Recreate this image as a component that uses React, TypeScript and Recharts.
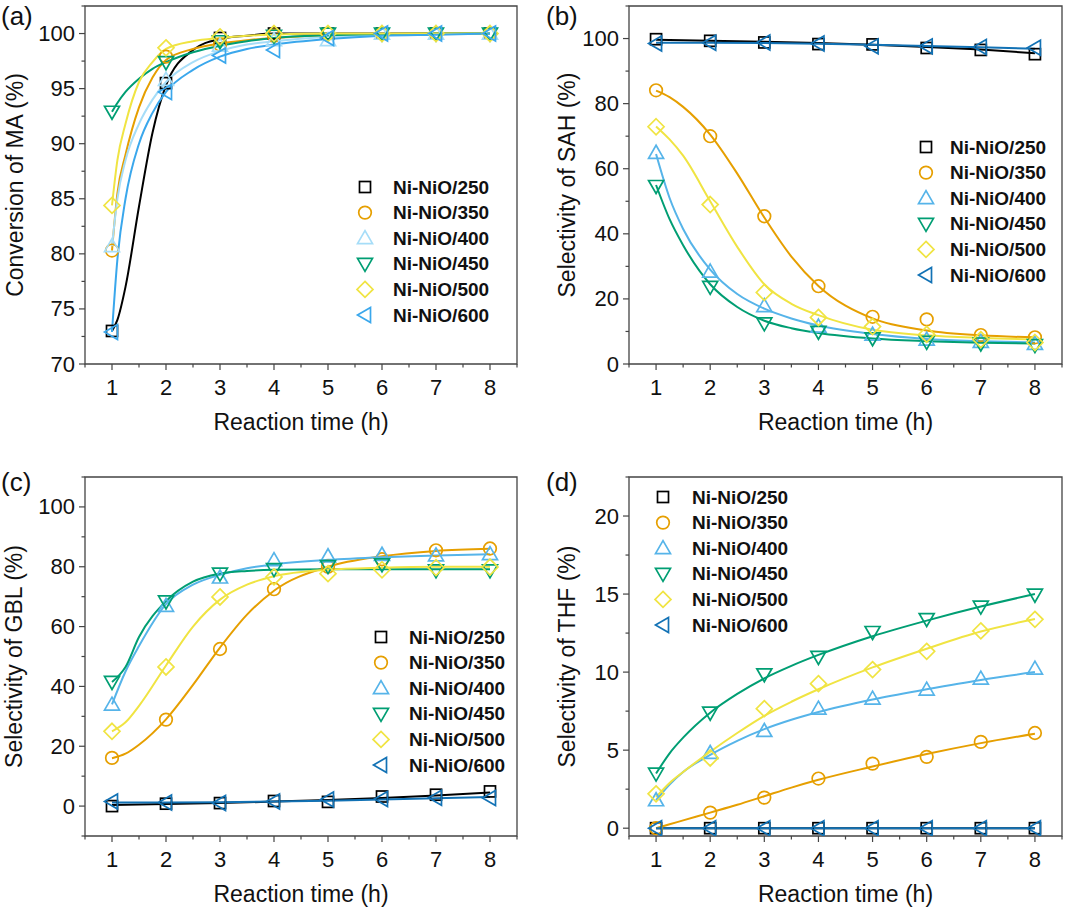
import React from "react";
import { LineChart, Line, XAxis, YAxis, ReferenceArea } from "recharts";

const FONT = '"Liberation Sans", Arial, Helvetica, sans-serif';
const AXIS = "#444";

// ---------- shared categories / ticks ----------
const hours = [1, 2, 3, 4, 5, 6, 7, 8];
const xTicks = [0.5, 1, 1.5, 2, 2.5, 3, 3.5, 4, 4.5, 5, 5.5, 6, 6.5, 7, 7.5, 8, 8.5];
const fitHoursA = [1, 1.1, 1.25, 1.5, 1.75, 2, 2.5, 3, 3.5, 4, 5, 6, 7, 8];
const fitHours = [1, 1.25, 1.5, 2, 2.5, 3, 3.5, 4, 5, 6, 7, 8];
const sampleNames = ["Ni-NiO/250", "Ni-NiO/350", "Ni-NiO/400", "Ni-NiO/450", "Ni-NiO/500", "Ni-NiO/600"];
const shapes = ["square", "circle", "up", "down", "diamond", "left"];
const colorsA = ["#000000", "#E69F00", "#A6DDF8", "#009E73", "#F0E442", "#3AA7EC"];
const colorsBCD = ["#000000", "#E69F00", "#56B4E9", "#009E73", "#F0E442", "#1272B5"];

const yTicksA = [70, 72.5, 75, 77.5, 80, 82.5, 85, 87.5, 90, 92.5, 95, 97.5, 100, 102.5];
const yTicksB = [0, 10, 20, 30, 40, 50, 60, 70, 80, 90, 100, 110];
const yTicksC = [-10, 0, 10, 20, 30, 40, 50, 60, 70, 80, 90, 100, 110];
const yTicksD = [0, 2.5, 5, 7.5, 10, 12.5, 15, 17.5, 20, 22.5];

// ---------- (a) conversion of MA ----------
const convMA250 = [73, 95.5, 99.6, 100, 100, 100, 100, 100];
const convMA350 = [80.3, 97.9, 99.0, 99.8, 100, 100, 100, 100];
const convMA400 = [80.7, 95.8, 98.9, 99.4, 99.4, 100, 100, 100];
const convMA450 = [92.9, 97.4, 99.3, 99.8, 100, 100, 100, 100];
const convMA500 = [84.4, 98.7, 99.7, 100, 100, 100, 100, 100];
const convMA600 = [72.9, 94.7, 98.0, 98.5, 99.6, 100, 100, 100];

const fitMA250 = [73, 74, 77, 84.3, 91, 95.3, 98.5, 99.5, 99.8, 100, 100, 100, 100, 100];
const fitMA350 = [80.3, 85.5, 89, 93.3, 96, 97.6, 98.6, 99.1, 99.4, 99.6, 99.85, 99.95, 100, 100];
const fitMA400 = [80.7, 85, 88.5, 91.8, 94, 95.6, 97.4, 98.4, 99.0, 99.3, 99.7, 99.85, 99.95, 100];
const fitMA450 = [92.9, 93.7, 94.7, 95.9, 96.8, 97.4, 98.3, 98.9, 99.3, 99.6, 99.85, 99.95, 100, 100];
const fitMA500 = [84.4, 88.5, 91.8, 95.6, 97.4, 98.6, 99.3, 99.6, 99.8, 99.9, 100, 100, 100, 100];
const fitMA600 = [72.9, 79.5, 85, 90, 92.8, 94.7, 96.7, 97.9, 98.6, 99.0, 99.5, 99.8, 99.9, 100];

// ---------- (b) selectivity of SAH ----------
const sah250 = [99.8, 99.3, 98.8, 98.3, 98.2, 97.1, 96.5, 95.2];
const sah350 = [84.1, 70.0, 45.4, 23.9, 14.5, 13.7, 8.9, 8.2];
const sah400 = [64.9, 28.4, 17.8, 11.5, 9.0, 7.5, 6.8, 6.2];
const sah450 = [54.7, 23.7, 12.5, 9.9, 7.9, 6.8, 6.3, 5.8];
const sah500 = [72.9, 49.0, 22.0, 14.3, 11.5, 9.1, 7.5, 6.6];
const sah600 = [98.5, 98.7, 98.8, 98.5, 97.6, 97.6, 97.4, 97.2];

const fitSah250 = [99.6, 99.3, 99.0, 98.6, 98.1, 97.4, 96.6, 95.5];
const fitSah350 = [84, 82, 79, 70.5, 58.5, 45, 33, 24, 14, 10.3, 8.8, 8.2];
const fitSah400 = [64.5, 51, 41.5, 29, 21.5, 17, 14, 11.8, 9.2, 7.7, 7, 6.6];
const fitSah450 = [55, 44.5, 36.5, 24.5, 17.5, 13.3, 11, 9.5, 7.8, 7, 6.5, 6.3];
const fitSah500 = [73, 69, 64, 50, 36, 24.5, 18.5, 15, 10.5, 8.8, 8, 7.5];
const fitSah600 = [98.7, 98.7, 98.6, 98.4, 98.1, 97.7, 97.3, 96.9];

// ---------- (c) selectivity of GBL ----------
const gbl250 = [0, 0.8, 1, 1.7, 1.4, 3.2, 3.8, 4.9];
const gbl350 = [16.1, 28.9, 52.5, 72.5, 80, 82.5, 85.5, 86.1];
const gbl400 = [33.9, 66.9, 76.4, 82.2, 83.5, 84, 83.8, 84.2];
const gbl450 = [41.5, 68.4, 77.7, 79.2, 80.2, 80.8, 78.8, 78.8];
const gbl500 = [25, 46.5, 69.9, 76.6, 77.7, 79, 79.7, 79.9];
const gbl600 = [1.5, 1.2, 1.0, 1.5, 2.2, 2.4, 2.8, 2.7];

const fitGbl250 = [0.4, 0.7, 1.0, 1.5, 2.0, 2.7, 3.5, 4.5];
const fitGbl350 = [16, 17.5, 20.5, 29, 40.5, 53, 64, 72, 80, 83.5, 85.3, 86];
const fitGbl400 = [34, 45, 53.5, 67.5, 74, 77.3, 79.5, 80.8, 82.3, 83.2, 83.8, 84.2];
const fitGbl450 = [41.5, 46.5, 56.5, 68.5, 75, 77.7, 78.6, 79, 79.2, 79.2, 79.2, 79.2];
const fitGbl500 = [25, 28, 33.5, 47, 60, 69, 74, 76.8, 79, 79.7, 80, 80];
const fitGbl600 = [1.2, 1.2, 1.3, 1.5, 1.8, 2.2, 2.6, 3.0];

// ---------- (d) selectivity of THF ----------
const thf250 = [0, 0, 0, 0, 0, 0, 0, 0];
const thf350 = [0, 1.0, 1.96, 3.18, 4.14, 4.57, 5.53, 6.1];
const thf400 = [1.79, 4.82, 6.23, 7.66, 8.3, 8.88, 9.58, 10.22];
const thf450 = [3.5, 7.4, 9.86, 10.97, 12.57, 13.4, 14.2, 14.96];
const thf500 = [2.2, 4.5, 7.66, 9.26, 10.16, 11.33, 12.64, 13.38];
const thf600 = [0, 0, 0, 0, 0, 0, 0, 0];

const fitThf350 = [0, 0.25, 0.5, 1.0, 1.5, 2.05, 2.6, 3.1, 3.95, 4.75, 5.45, 6.05];
const fitThf400 = [1.8, 2.8, 3.6, 4.7, 5.6, 6.35, 6.95, 7.45, 8.25, 8.9, 9.5, 10.0];
const fitThf450 = [3.5, 4.8, 5.8, 7.4, 8.6, 9.6, 10.4, 11.1, 12.3, 13.3, 14.2, 15.0];
const fitThf500 = [2.0, 2.9, 3.6, 4.9, 6.1, 7.2, 8.1, 8.9, 10.3, 11.5, 12.6, 13.4];

type Series = {
  name: string;
  color: string;
  shape: string;
  points: number[];
  fitX: number[];
  fit: number[];
  curve: "monotone" | "linear";
};

const toPts = (xs: number[], ys: number[]) => xs.map((x, i) => ({ x, y: ys[i] }));

const mk = (
  i: number,
  colors: string[],
  points: number[],
  fitX: number[],
  fit: number[],
  curve: "monotone" | "linear" = "monotone"
): Series => ({ name: sampleNames[i], color: colors[i], shape: shapes[i], points, fitX, fit, curve });

const seriesA = [
  mk(0, colorsA, convMA250, fitHoursA, fitMA250),
  mk(1, colorsA, convMA350, fitHoursA, fitMA350),
  mk(2, colorsA, convMA400, fitHoursA, fitMA400),
  mk(3, colorsA, convMA450, fitHoursA, fitMA450),
  mk(4, colorsA, convMA500, fitHoursA, fitMA500),
  mk(5, colorsA, convMA600, fitHoursA, fitMA600),
];
const seriesB = [
  mk(0, colorsBCD, sah250, hours, fitSah250, "linear"),
  mk(1, colorsBCD, sah350, fitHours, fitSah350),
  mk(2, colorsBCD, sah400, fitHours, fitSah400),
  mk(3, colorsBCD, sah450, fitHours, fitSah450),
  mk(4, colorsBCD, sah500, fitHours, fitSah500),
  mk(5, colorsBCD, sah600, hours, fitSah600, "linear"),
];
const seriesC = [
  mk(0, colorsBCD, gbl250, hours, fitGbl250, "linear"),
  mk(1, colorsBCD, gbl350, fitHours, fitGbl350),
  mk(2, colorsBCD, gbl400, fitHours, fitGbl400),
  mk(3, colorsBCD, gbl450, fitHours, fitGbl450),
  mk(4, colorsBCD, gbl500, fitHours, fitGbl500),
  mk(5, colorsBCD, gbl600, hours, fitGbl600, "linear"),
];
const seriesD = [
  mk(0, colorsBCD, thf250, hours, thf250, "linear"),
  mk(1, colorsBCD, thf350, fitHours, fitThf350),
  mk(2, colorsBCD, thf400, fitHours, fitThf400),
  mk(3, colorsBCD, thf450, fitHours, fitThf450),
  mk(4, colorsBCD, thf500, fitHours, fitThf500),
  mk(5, colorsBCD, thf600, hours, thf600, "linear"),
];

function Marker({ shape, cx, cy, color }: { shape: string; cx: number; cy: number; color: string }) {
  const st = { fill: "none", stroke: color, strokeWidth: 1.7 };
  switch (shape) {
    case "square":
      return <rect x={cx - 5.5} y={cy - 5.5} width={11} height={11} {...st} />;
    case "circle":
      return <circle cx={cx} cy={cy} r={6.3} {...st} />;
    case "up":
      return <polygon points={`${cx},${cy - 7.5} ${cx + 7.5},${cy + 5.5} ${cx - 7.5},${cy + 5.5}`} {...st} />;
    case "down":
      return <polygon points={`${cx - 7.5},${cy - 5.5} ${cx + 7.5},${cy - 5.5} ${cx},${cy + 7.5}`} {...st} />;
    case "diamond":
      return <polygon points={`${cx},${cy - 8} ${cx + 8},${cy} ${cx},${cy + 8} ${cx - 8},${cy}`} {...st} />;
    default:
      return <polygon points={`${cx - 7.5},${cy} ${cx + 5.5},${cy - 7.5} ${cx + 5.5},${cy + 7.5}`} {...st} />;
  }
}

const XTick = (props: any) => {
  const { x, y, payload } = props;
  const major = Number.isInteger(payload.value);
  return (
    <g>
      <line x1={x} x2={x} y1={y} y2={y + (major ? 6 : 3.5)} stroke={AXIS} strokeWidth={1.2} />
      {major && payload.value >= 1 && payload.value <= 8 && (
        <text x={x} y={y + 23} textAnchor="middle" dominantBaseline="central" fontSize={22} fontFamily={FONT} fill="#111">
          {payload.value}
        </text>
      )}
    </g>
  );
};

const makeYTick = (isMajor: (v: number) => boolean) => (props: any) => {
  const { x, y, payload } = props;
  const major = isMajor(payload.value);
  return (
    <g>
      <line x1={x} x2={x - (major ? 6 : 3.5)} y1={y} y2={y} stroke={AXIS} strokeWidth={1.2} />
      {major && (
        <text x={x - 10} y={y} textAnchor="end" dominantBaseline="central" fontSize={22} fontFamily={FONT} fill="#111">
          {payload.value}
        </text>
      )}
    </g>
  );
};

type PanelSpec = {
  left: number;
  top: number;
  height: number;
  margin: { top: number; right: number; left: number; bottom: number };
  yDomain: [number, number];
  yTicks: number[];
  yStep: number;
  yTitle: string;
  label: string;
  labelX: number;
  labelY: number;
  yTitleX: number;
  legendMarkerX: number;
  legendTextX: number;
  legendY: number;
  series: Series[];
};

const Y_W = 60;
const X_H = 30;
const W = 540;

function Panel({ p }: { p: PanelSpec }) {
  const plotLeft = p.margin.left + Y_W;
  const plotRight = W - p.margin.right;
  const plotTop = p.margin.top;
  const plotBottom = p.height - p.margin.bottom - X_H;
  const midX = (plotLeft + plotRight) / 2;
  const midY = (plotTop + plotBottom) / 2;
  const yTick = makeYTick((v) => Math.abs(v / p.yStep - Math.round(v / p.yStep)) < 1e-6);
  return (
    <div style={{ position: "absolute", left: p.left, top: p.top, width: W, height: p.height }}>
      <LineChart width={W} height={p.height} margin={p.margin}>
        <XAxis
          type="number"
          dataKey="x"
          domain={[0.5, 8.5]}
          ticks={xTicks}
          interval={0}
          allowDataOverflow
          axisLine={false}
          tickLine={false}
          tickSize={0}
          tickMargin={0}
          height={X_H}
          tick={XTick}
        />
        <YAxis
          type="number"
          domain={p.yDomain}
          ticks={p.yTicks}
          interval={0}
          allowDataOverflow
          axisLine={false}
          tickLine={false}
          tickSize={0}
          tickMargin={0}
          width={Y_W}
          tick={yTick}
        />
        <ReferenceArea
          x1={0.5}
          x2={8.5}
          y1={p.yDomain[0]}
          y2={p.yDomain[1]}
          fill="none"
          fillOpacity={0}
          stroke={AXIS}
          strokeWidth={1.3}
        />
        {p.series.map((s) => (
          <Line
            key={"fit" + s.name}
            data={toPts(s.fitX, s.fit)}
            dataKey="y"
            type={s.curve}
            stroke={s.color}
            strokeWidth={2}
            dot={false}
            activeDot={false}
            isAnimationActive={false}
          />
        ))}
        {p.series.map((s) => (
          <Line
            key={"pts" + s.name}
            data={toPts(hours, s.points)}
            dataKey="y"
            stroke="none"
            activeDot={false}
            isAnimationActive={false}
            dot={(d: any) => (
              <Marker key={s.name + d.index} shape={s.shape} cx={d.cx} cy={d.cy} color={s.color} />
            )}
          />
        ))}
      </LineChart>
      <svg
        width={W}
        height={p.height}
        style={{ position: "absolute", left: 0, top: 0, pointerEvents: "none", fontFamily: FONT }}
      >
        <text x={p.labelX} y={p.labelY} fontSize={26} fill="#111">
          {p.label}
        </text>
        <text x={midX} y={plotBottom + 58} textAnchor="middle" dominantBaseline="central" fontSize={23} fill="#111">
          Reaction time (h)
        </text>
        <text
          transform={`translate(${p.yTitleX},${midY}) rotate(-90)`}
          textAnchor="middle"
          dominantBaseline="central"
          fontSize={23}
          fill="#111"
        >
          {p.yTitle}
        </text>
        {p.series.map((s, i) => {
          const cy = p.legendY + i * 25.6;
          return (
            <g key={"lg" + s.name}>
              <Marker shape={s.shape} cx={p.legendMarkerX} cy={cy} color={s.color} />
              <text x={p.legendTextX} y={cy} dominantBaseline="central" fontSize={19} fontWeight="bold" fill="#111">
                {s.name}
              </text>
            </g>
          );
        })}
      </svg>
    </div>
  );
}

const panels: PanelSpec[] = [
  {
    left: 0, top: 0, height: 450,
    margin: { top: 6, right: 23, left: 25, bottom: 56 },
    yDomain: [70, 102.5], yTicks: yTicksA, yStep: 5,
    yTitle: "Conversion of MA (%)", label: "(a)", labelX: 1, labelY: 25, yTitleX: 15,
    legendMarkerX: 365, legendTextX: 393, legendY: 187, series: seriesA,
  },
  {
    left: 540, top: 0, height: 450,
    margin: { top: 6, right: 18, left: 29, bottom: 56 },
    yDomain: [0, 110], yTicks: yTicksB, yStep: 20,
    yTitle: "Selectivity of SAH (%)", label: "(b)", labelX: 6, labelY: 25, yTitleX: 27,
    legendMarkerX: 386, legendTextX: 410, legendY: 147, series: seriesB,
  },
  {
    left: 0, top: 460, height: 447,
    margin: { top: 17, right: 23, left: 25, bottom: 41 },
    yDomain: [-10, 110], yTicks: yTicksC, yStep: 20,
    yTitle: "Selectivity of GBL (%)", label: "(c)", labelX: 1, labelY: 31, yTitleX: 14,
    legendMarkerX: 381, legendTextX: 409, legendY: 177, series: seriesC,
  },
  {
    left: 540, top: 460, height: 447,
    margin: { top: 17, right: 18, left: 29, bottom: 41 },
    yDomain: [-0.5, 22.5], yTicks: yTicksD, yStep: 5,
    yTitle: "Selectivity of THF (%)", label: "(d)", labelX: 6, labelY: 31, yTitleX: 27,
    legendMarkerX: 123, legendTextX: 152, legendY: 37, series: seriesD,
  },
];

export default function App() {
  return (
    <div style={{ position: "absolute", left: 0, top: 0, width: 1080, height: 907, background: "#fff", fontFamily: FONT }}>
      {panels.map((p) => (
        <Panel key={p.label} p={p} />
      ))}
    </div>
  );
}
